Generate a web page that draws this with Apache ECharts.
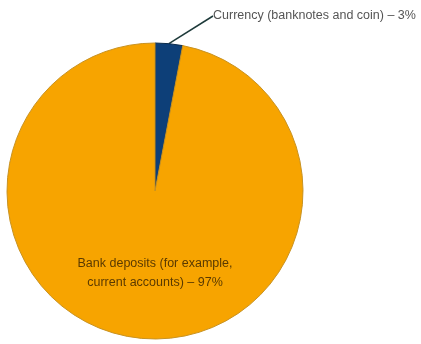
<!DOCTYPE html>
<html><head><meta charset="utf-8">
<script src="https://cdn.jsdelivr.net/npm/echarts@6/dist/echarts.min.js"></script>
<style>html,body{margin:0;padding:0;background:#fff}#c{width:421px;height:344px}</style>
</head><body><div id="c"></div>
<script>
const categories = ['Currency (banknotes and coin)', 'Bank deposits (for example,\ncurrent accounts)'];
const values = [3, 97];
const colors = ['#0d3f78', '#f7a400'];
const borders = ['#0a2a4a', '#c89222'];

const chart = echarts.init(document.getElementById('c'), null, {renderer: 'canvas'});
chart.setOption({
  animation: false,
  series: [{
    type: 'pie',
    center: [155, 191],
    radius: 148,
    startAngle: 90,
    clockwise: true,
    silent: true,
    data: categories.map((name, i) => ({
      name: name,
      value: values[i],
      itemStyle: {color: colors[i], borderColor: borders[i], borderWidth: 1},
      label: i === 0 ? {
        show: true, position: 'outside', formatter: '{b} – {c}%',
        color: '#555', fontSize: 12.5, fontFamily: 'Liberation Sans'
      } : {
        show: true, position: 'inside', formatter: '{b} – {c}%',
        color: '#5a3a00', fontSize: 12.5, lineHeight: 19, fontFamily: 'Liberation Sans', align: 'center'
      },
      labelLine: i === 0 ? {show: true, length: 20, length2: 0, lineStyle: {color: '#1e3a3a', width: 1.5}} : {show: false}
    })),
    labelLayout: function (p) {
      if (p.dataIndex === 0) {
        return {x: 213, y: 16, align: 'left', verticalAlign: 'middle'};
      }
      return {x: 155, y: 273, align: 'center', verticalAlign: 'middle'};
    }
  }]
});
</script></body></html>
